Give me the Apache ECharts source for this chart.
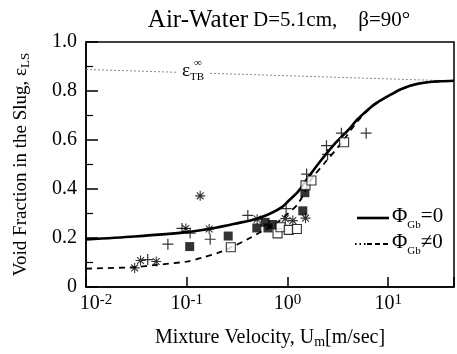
<!DOCTYPE html>
<html>
<head>
<meta charset="utf-8">
<script src="https://cdn.jsdelivr.net/npm/echarts@6/dist/echarts.min.js"></script>
<style>html,body{margin:0;padding:0;background:#fff}#c{width:457px;height:354px}</style>
</head>
<body>
<div id="c"></div>
<script>
// ---- data ----
const solidU   = [0.01, 0.03, 0.1, 0.2, 0.3, 0.5, 0.7, 0.88, 1.0, 1.28, 1.5, 2, 3, 4, 5, 7, 8.5, 10.7, 13, 16.8, 20, 26, 33, 45];
const solidEps = [0.194, 0.206, 0.224, 0.243, 0.258, 0.279, 0.303, 0.326, 0.347, 0.39, 0.43, 0.50, 0.588, 0.64, 0.686, 0.74, 0.763, 0.786, 0.805, 0.822, 0.83, 0.837, 0.84, 0.842];
const dashU    = [0.01, 0.03, 0.05, 0.1, 0.143, 0.21, 0.274, 0.41, 0.56, 0.78, 1.0, 1.28, 1.73, 2.36, 3.43, 5, 7, 8.5, 10.7, 13, 16.8, 20, 26, 33, 45];
const dashEps  = [0.075, 0.081, 0.09, 0.104, 0.12, 0.141, 0.161, 0.197, 0.228, 0.261, 0.298, 0.341, 0.44, 0.508, 0.588, 0.678, 0.738, 0.762, 0.785, 0.804, 0.821, 0.83, 0.837, 0.84, 0.842];
const tbU      = [0.01, 45];
const tbEps    = [0.888, 0.841];
const plusU    = [0.0897, 0.108, 0.065, 0.041, 0.171, 0.404, 0.97, 1.55, 2.44, 2.5, 3.43, 6.04];
const plusEps  = [0.239, 0.22, 0.175, 0.112, 0.195, 0.292, 0.32, 0.461, 0.577, 0.541, 0.628, 0.628];
const starU    = [0.136, 0.098, 0.0348, 0.0498, 0.0304, 0.167, 0.50, 0.95, 1.13, 1.51];
const starEps  = [0.372, 0.239, 0.108, 0.104, 0.078, 0.237, 0.277, 0.279, 0.271, 0.281];
const fillU    = [0.107, 0.258, 0.496, 0.60, 0.64, 0.711, 1.42, 1.49];
const fillEps  = [0.165, 0.208, 0.241, 0.264, 0.241, 0.255, 0.311, 0.385];
const openU    = [0.274, 0.797, 0.853, 1.03, 1.24, 1.51, 1.73, 3.65];
const openEps  = [0.162, 0.219, 0.244, 0.233, 0.237, 0.415, 0.435, 0.591];
const yTicks   = [0, 0.2, 0.4, 0.6, 0.8, 1.0];
const xDecades = [-2, -1, 0, 1];

const zip = (a, b) => a.map((v, i) => [v, b[i]]);
const F = 'Liberation Serif';
const chart = echarts.init(document.getElementById('c'), null, {renderer: 'canvas'});

const plusPath = 'path://M5,0L5,10M0,5L10,5';
const starPath = 'path://M5,0L5,10M0,5L10,5M1.6,1.6L8.4,8.4M1.6,8.4L8.4,1.6';

chart.setOption({
  animation: false,
  backgroundColor: '#fff',
  title: {
    text: '{a|Air-Water} {b|D=5.1cm,    β=90°}',
    left: 274, textAlign: 'center', top: 0,
    textStyle: {fontWeight: 'normal', rich: {
      a: {fontFamily: F, fontSize: 25, fontWeight: 'normal', color: '#000', lineHeight: 30},
      b: {fontFamily: F, fontSize: 21, fontWeight: 'normal', color: '#000', lineHeight: 30}
    }}
  },
  grid: {left: 86, right: -1, top: 42, bottom: 62, show: true, borderColor: '#000', borderWidth: 1.5, backgroundColor: 'transparent'},
  xAxis: {
    type: 'log', logBase: 10, min: 0.01, max: 45,
    axisLine: {show: true, lineStyle: {color: '#000', width: 1.5}},
    axisTick: {show: true, inside: true, length: 10, lineStyle: {color: '#000', width: 1.5}},
    minorTick: {show: false},
    splitLine: {show: false},
    axisLabel: {
      margin: 6,
      formatter: function (v) {
        const e = Math.log10(v);
        const r = Math.round(e);
        if (Math.abs(e - r) > 1e-6 || xDecades.indexOf(r) < 0) return '';
        if (r === -2) return '{b0|10}{s|' + r + '}';
        return '{b|10}{s|' + r + '}';
      },
      rich: {
        b: {fontFamily: F, fontSize: 20, color: '#000', lineHeight: 22},
        b0: {fontFamily: F, fontSize: 20, color: '#000', lineHeight: 22, padding: [0, 0, 0, 20]},
        s: {fontFamily: F, fontSize: 15, color: '#000', verticalAlign: 'top', lineHeight: 22}
      }
    },
    name: '{n|Mixture Velocity, U}{sub|m}{n|[m/sec]}',
    nameLocation: 'middle', nameGap: 40,
    nameTextStyle: {rich: {
      n: {fontFamily: F, fontSize: 20, color: '#000', lineHeight: 22},
      sub: {fontFamily: F, fontSize: 14, color: '#000', verticalAlign: 'bottom', lineHeight: 22}
    }}
  },
  yAxis: {
    type: 'value', min: 0, max: 1, interval: 0.2,
    axisLine: {show: true, lineStyle: {color: '#000', width: 1.5}},
    axisTick: {show: true, inside: true, length: 12, lineStyle: {color: '#000', width: 1.5}},
    minorTick: {show: true, splitNumber: 2, length: 7, lineStyle: {color: '#000', width: 1.2}},
    splitLine: {show: false},
    axisLabel: {
      margin: 9, fontFamily: F, fontSize: 20, color: '#000',
      formatter: function (v) {
        const t = yTicks.find(x => Math.abs(x - v) < 1e-9);
        if (t === undefined) return '';
        return t === 0 ? '0' : t.toFixed(1);
      }
    },
    name: '{n|Void Fraction in the Slug, ε}{sub|LS}',
    nameLocation: 'middle', nameGap: 54,
    nameTextStyle: {rich: {
      n: {fontFamily: F, fontSize: 19, color: '#000', lineHeight: 22},
      sub: {fontFamily: F, fontSize: 13, color: '#000', verticalAlign: 'bottom', lineHeight: 22}
    }}
  },
  series: [
    {type: 'line', data: zip(tbU, tbEps), symbol: 'none', lineStyle: {color: '#888', width: 1, type: [2, 2]}, z: 1},
    {type: 'line', data: zip(dashU, dashEps), symbol: 'none', smooth: 0.3, lineStyle: {color: '#000', width: 1.8, type: [6, 5]}, z: 2},
    {type: 'line', data: zip(solidU, solidEps), symbol: 'none', smooth: 0.3, lineStyle: {color: '#000', width: 2.6}, z: 2},
    {type: 'scatter', data: zip(plusU, plusEps), symbol: plusPath, symbolSize: 11, itemStyle: {color: 'rgba(0,0,0,0)', borderColor: '#000', borderWidth: 1.2}, z: 3},
    {type: 'scatter', data: zip(starU, starEps), symbol: starPath, symbolSize: 10, itemStyle: {color: 'rgba(0,0,0,0)', borderColor: '#000', borderWidth: 1.1}, z: 3},
    {type: 'scatter', data: zip(fillU, fillEps), symbol: 'rect', symbolSize: 9, itemStyle: {color: '#000'}, z: 3},
    {type: 'scatter', data: zip(openU, openEps), symbol: 'rect', symbolSize: 9, itemStyle: {color: '#fff', borderColor: '#000', borderWidth: 1.1}, z: 4}
  ],
  graphic: [
    {type: 'rect', shape: {x: 176, y: 64, width: 32, height: 14}, style: {fill: '#fff'}, z: 100},
    {type: 'text', left: 182, top: 62, z: 101, style: {text: '{e|ε}{t|TB}', rich: {
      e: {fontFamily: F, fontSize: 19, fill: '#000', lineHeight: 20},
      t: {fontFamily: F, fontSize: 11, fill: '#000', verticalAlign: 'bottom', lineHeight: 22}
    }}},
    {type: 'text', left: 194, top: 58, z: 101, style: {text: '∞', fontFamily: F, fontSize: 11, fill: '#000'}},
    // legend
    {type: 'line', shape: {x1: 357, y1: 218, x2: 389, y2: 218}, style: {stroke: '#000', lineWidth: 2.6}, z: 100},
    {type: 'text', left: 392, top: 206, z: 101, style: {text: '{p|Φ}{s|Gb}{p|=0}', rich: {
      p: {fontFamily: F, fontSize: 21, fill: '#000', lineHeight: 24},
      s: {fontFamily: F, fontSize: 11, fill: '#000', verticalAlign: 'bottom', lineHeight: 28}
    }}},
    {type: 'line', shape: {x1: 355, y1: 244, x2: 366, y2: 244}, style: {stroke: '#000', lineWidth: 1.8, lineDash: [1.5, 3]}, z: 100},
    {type: 'line', shape: {x1: 367, y1: 244, x2: 389, y2: 244}, style: {stroke: '#000', lineWidth: 1.8, lineDash: [5, 3]}, z: 100},
    {type: 'text', left: 392, top: 232, z: 101, style: {text: '{p|Φ}{s|Gb}{p|≠0}', rich: {
      p: {fontFamily: F, fontSize: 21, fill: '#000', lineHeight: 24},
      s: {fontFamily: F, fontSize: 11, fill: '#000', verticalAlign: 'bottom', lineHeight: 28}
    }}}
  ]
});
</script>
</body>
</html>
